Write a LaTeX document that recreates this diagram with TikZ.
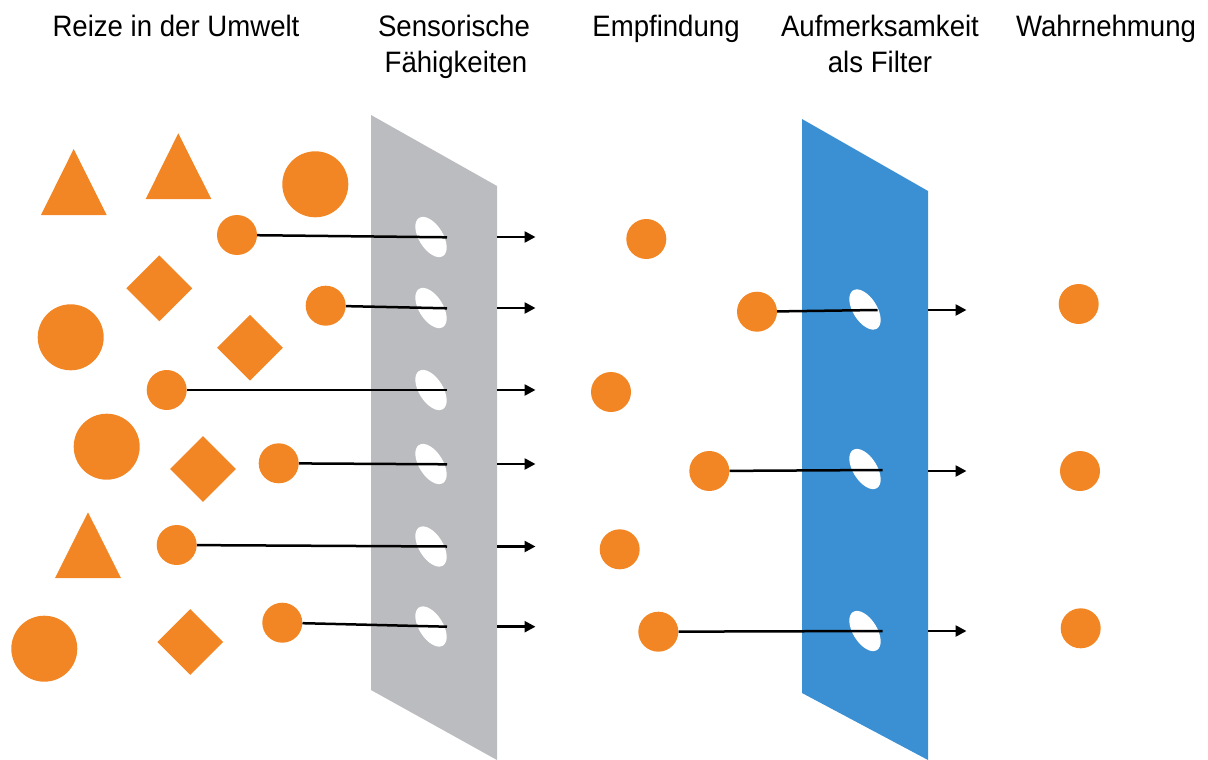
\documentclass[tikz,border=0pt]{standalone}
\usepackage{fontspec}
\setmainfont{Liberation Sans}
\usetikzlibrary{arrows.meta,shapes.geometric}

\definecolor{stimorange}{RGB}{243,134,36}
\definecolor{sensegray}{RGB}{187,188,191}
\definecolor{filterblue}{RGB}{58,144,210}

% headings are set slightly taller than the plain font
\newcommand{\headtext}[1]{\scalebox{1}[1.07]{#1}}

\begin{document}
\begin{tikzpicture}[x=1pt,y=-1pt,
  lbl/.style={anchor=base,inner sep=0pt,font=\fontsize{27.6}{33}\selectfont},
  dot/.style={circle,fill=stimorange,inner sep=0pt,minimum size=40pt},
  bigdot/.style={circle,fill=stimorange,inner sep=0pt,minimum size=66pt},
  rhomb/.style={diamond,fill=stimorange,inner sep=0pt,minimum width=66pt,minimum height=66pt},
  hole/.style={ellipse,fill=white,inner sep=0pt,minimum width=24pt,minimum height=45pt,rotate=32},
  ray/.style={line width=2.5pt,black},
  pass/.style={line width=2.5pt,black,-{Triangle[length=11pt,width=11pt]}}
]
\useasboundingbox (0,0) rectangle (1208,760);

% column headings
\node[lbl] (t1)  at (176,37) {\headtext{Reize in der Umwelt}};
\node[lbl] (t2a) at (454,37) {\headtext{Sensorische}};
\node[lbl] (t2b) at (456,73) {\headtext{Fähigkeiten}};
\node[lbl] (t3)  at (666,37) {\headtext{Empfindung}};
\node[lbl] (t4a) at (880,37) {\headtext{Aufmerksamkeit}};
\node[lbl] (t4b) at (880,73) {\headtext{als Filter}};
\node[lbl] (t5)  at (1106,37) {\headtext{Wahrnehmung}};

% the two panels
\fill[sensegray] (371,115) -- (497,186) -- (497,760) -- (371,690) -- cycle;
\fill[filterblue] (802,119) -- (928,191) -- (928,760) -- (802,693) -- cycle;

% openings in the sensory panel
\node[hole] (g1) at (431,237) {};
\node[hole] (g2) at (431,308) {};
\node[hole] (g3) at (431,390) {};
\node[hole] (g4) at (431,464) {};
\node[hole] (g5) at (431,546.5) {};
\node[hole] (g6) at (431,626.5) {};

% openings in the attention filter
\node[hole] (b1) at (865,309.5) {};
\node[hole] (b2) at (865,469) {};
\node[hole] (b3) at (865,631) {};

% stimuli that are not picked up
\fill[stimorange] (73.7,149) -- (106.7,215) -- (41,215) -- cycle;
\fill[stimorange] (178.3,133.3) -- (211.3,199) -- (145.7,199) -- cycle;
\fill[stimorange] (88,512.3) -- (121,578) -- (55,578) -- cycle;
\node[bigdot] (s1) at (315.3,184.3) {};
\node[bigdot] (s2) at (70.7,337.3) {};
\node[bigdot] (s3) at (106.7,446.7) {};
\node[bigdot] (s4) at (44.3,648.7) {};
\node[rhomb] (r1) at (159.3,288.3) {};
\node[rhomb] (r2) at (250,347.7) {};
\node[rhomb] (r3) at (203,469) {};
\node[rhomb] (r4) at (190.3,642) {};

% stimuli that reach the senses
\node[dot] (c1) at (237,235) {};
\node[dot] (c2) at (325.7,305.7) {};
\node[dot] (c3) at (166.7,390) {};
\node[dot] (c4) at (278.7,463.3) {};
\node[dot] (c5) at (176.7,545) {};
\node[dot] (c6) at (282.3,622.7) {};

% sensations
\node[dot] (e1) at (646.3,239) {};
\node[dot] (e2) at (757,311.7) {};
\node[dot] (e3) at (611,392) {};
\node[dot] (e4) at (709.3,471) {};
\node[dot] (e5) at (619.7,549.3) {};
\node[dot] (e6) at (658.3,631.7) {};

% perceptions
\node[dot] (w1) at (1078.7,304) {};
\node[dot] (w2) at (1080,471) {};
\node[dot] (w3) at (1080.7,628.3) {};

% rays into the sensory openings
\coordinate (gx1) at (447,237.3);
\coordinate (gx2) at (447,308.3);
\coordinate (gx3) at (447,390);
\coordinate (gx4) at (447,464.3);
\coordinate (gx5) at (447,546.5);
\coordinate (gx6) at (447,626.7);
\draw[ray] (c1) -- (gx1);
\draw[ray] (c2) -- (gx2);
\draw[ray] (c3) -- (gx3);
\draw[ray] (c4) -- (gx4);
\draw[ray] (c5) -- (gx5);
\draw[ray] (c6) -- (gx6);

% rays into the filter openings
\coordinate (bx1) at (877.5,310);
\coordinate (bx2) at (882.7,470);
\coordinate (bx3) at (882.7,631);
\draw[ray] (e2) -- (bx1);
\draw[ray] (e4) -- (bx2);
\draw[ray] (e6) -- (bx3);

% arrows leaving the sensory panel
\foreach \i/\y in {1/237,2/308,3/390,4/464,5/546.5,6/626.7}{
  \coordinate (ga\i) at (497,\y);
  \coordinate (gb\i) at (535.5,\y);
  \draw[pass] (ga\i) -- (gb\i);
}

% arrows leaving the filter
\foreach \i/\y in {1/310,2/471,3/631}{
  \coordinate (ba\i) at (928,\y);
  \coordinate (bb\i) at (966.5,\y);
  \draw[pass] (ba\i) -- (bb\i);
}
\end{tikzpicture}
\end{document}
